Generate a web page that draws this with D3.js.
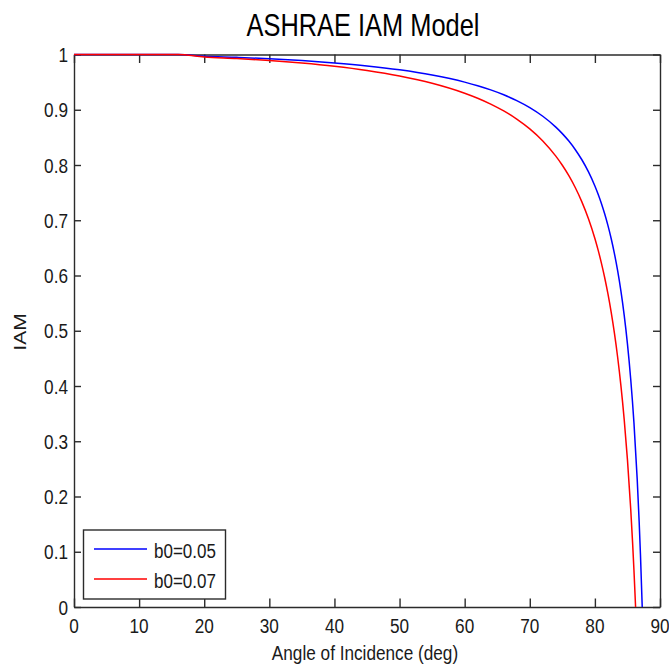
<!DOCTYPE html>
<html>
<head>
<meta charset="utf-8">
<script src="https://cdn.jsdelivr.net/npm/d3@7"></script>
<style>
  html, body { margin: 0; padding: 0; background: #fff; }
  svg { display: block; font-family: "Liberation Sans", Arial, sans-serif; }
</style>
</head>
<body>
<svg id="chart" width="669" height="666"></svg>
<script>
// ---- data ----
const angles05 = [0, 10, 16, 20, 25, 30, 35, 40, 45, 50, 55, 60, 62, 64, 66, 68, 70, 72, 74, 75, 76, 77, 78, 79, 80, 80.5, 81, 81.5, 82, 82.5, 83, 83.5, 84, 84.5, 85, 85.5, 86, 86.5, 86.8, 87, 87.27];
const iam05    = [1, 1, 1, 0.9968, 0.9948, 0.9923, 0.9890, 0.9847, 0.9793, 0.9722, 0.9628, 0.95, 0.9435, 0.9359, 0.9271, 0.9165, 0.9038, 0.8882, 0.8686, 0.8568, 0.8433, 0.8277, 0.8095, 0.7880, 0.7621, 0.7471, 0.7304, 0.7117, 0.6907, 0.6669, 0.6397, 0.6083, 0.5717, 0.5283, 0.4763, 0.4127, 0.3332, 0.2310, 0.1542, 0.0947, 0];
const angles07 = [0, 10, 16, 20, 25, 30, 35, 40, 45, 50, 55, 60, 62, 64, 66, 68, 70, 72, 74, 75, 76, 77, 78, 79, 80, 80.5, 81, 81.5, 82, 82.5, 83, 83.5, 84, 84.5, 85, 85.5, 85.8, 86, 86.25];
const iam07    = [1, 1, 1, 0.9955, 0.9928, 0.9892, 0.9845, 0.9786, 0.9710, 0.9611, 0.9480, 0.93, 0.9209, 0.9103, 0.8979, 0.8831, 0.8653, 0.8435, 0.8160, 0.7995, 0.7806, 0.7588, 0.7333, 0.7031, 0.6669, 0.6459, 0.6225, 0.5964, 0.5670, 0.5337, 0.4956, 0.4516, 0.4003, 0.3397, 0.2668, 0.1778, 0.1142, 0.0665, 0];
const seriesNames = ["b0=0.05", "b0=0.07"];
const seriesColors = ["#0000ff", "#ff0000"];
const xTicks = [0, 10, 20, 30, 40, 50, 60, 70, 80, 90];
const yTicks = [0, 0.1, 0.2, 0.3, 0.4, 0.5, 0.6, 0.7, 0.8, 0.9, 1];
const yTickLabels = ["0", "0.1", "0.2", "0.3", "0.4", "0.5", "0.6", "0.7", "0.8", "0.9", "1"];
const titleText = "ASHRAE IAM Model";
const xLabel = "Angle of Incidence (deg)";
const yLabel = "IAM";

// ---- layout ----
const L = 74, R = 660, T = 54.5, B = 607;
const SY = 1.22; // vertical text stretch seen in the picture
const svg = d3.select("#chart");
const x = d3.scaleLinear().domain([0, 90]).range([L, R]);
const y = d3.scaleLinear().domain([0, 1]).range([B, T]);
const axisColor = "#2b2b2b";
const textColor = "#1a1a1a";

// axes box with inward ticks
function styleAxis(g) {
  g.selectAll("path.domain").attr("stroke", axisColor).attr("stroke-width", 1.4);
  g.selectAll(".tick line").attr("stroke", axisColor).attr("stroke-width", 1.4);
  g.selectAll(".tick text").remove();
}
svg.append("g").attr("transform", `translate(0,${B})`)
  .call(d3.axisBottom(x).tickValues(xTicks).tickSizeInner(-8.5).tickSizeOuter(0).tickFormat(""))
  .call(styleAxis);
svg.append("g").attr("transform", `translate(0,${T})`)
  .call(d3.axisTop(x).tickValues(xTicks).tickSizeInner(-8.5).tickSizeOuter(0).tickFormat(""))
  .call(styleAxis);
svg.append("g").attr("transform", `translate(${L},0)`)
  .call(d3.axisLeft(y).tickValues(yTicks).tickSizeInner(-7).tickSizeOuter(0).tickFormat(""))
  .call(styleAxis);
svg.append("g").attr("transform", `translate(${R},0)`)
  .call(d3.axisRight(y).tickValues(yTicks).tickSizeInner(-7).tickSizeOuter(0).tickFormat(""))
  .call(styleAxis);

// tick labels
svg.append("g").selectAll("text").data(xTicks).join("text")
  .attr("transform", d => `translate(${x(d)},633) scale(1,${SY})`)
  .attr("text-anchor", "middle")
  .attr("font-size", 17.2)
  .attr("fill", textColor)
  .text(d => String(d));
svg.append("g").selectAll("text").data(yTicks).join("text")
  .attr("transform", d => `translate(68,${y(d) + 7.5}) scale(1,${SY})`)
  .attr("text-anchor", "end")
  .attr("font-size", 17.2)
  .attr("fill", textColor)
  .text((d, i) => yTickLabels[i]);

// lines
const line = d3.line().x(d => x(d[0])).y(d => y(d[1])).curve(d3.curveMonotoneX);
const data = [
  d3.zip(angles05, iam05),
  d3.zip(angles07, iam07)
];
data.forEach((pts, i) => {
  svg.append("path")
    .datum(pts)
    .attr("d", line)
    .attr("fill", "none")
    .attr("stroke", seriesColors[i])
    .attr("stroke-width", 1.5);
});

// title & labels
svg.append("text")
  .attr("transform", `translate(363,36) scale(1,1.25)`)
  .attr("text-anchor", "middle")
  .attr("font-size", 25.4)
  .attr("fill", "#000")
  .text(titleText);
svg.append("text")
  .attr("transform", `translate(365,660) scale(1,${SY})`)
  .attr("text-anchor", "middle")
  .attr("font-size", 17.2)
  .attr("fill", textColor)
  .text(xLabel);
svg.append("text")
  .attr("transform", `translate(26,332) scale(1,${SY}) rotate(-90)`)
  .attr("text-anchor", "middle")
  .attr("font-size", 17.2)
  .attr("fill", textColor)
  .text(yLabel);

// legend
const lg = svg.append("g");
lg.append("rect")
  .attr("x", 83.5).attr("y", 530).attr("width", 142).attr("height", 69)
  .attr("fill", "#fff").attr("stroke", axisColor).attr("stroke-width", 1.4);
seriesNames.forEach((name, i) => {
  const ly = 549 + i * 30;
  lg.append("line")
    .attr("x1", 94).attr("x2", 147).attr("y1", ly).attr("y2", ly)
    .attr("stroke", seriesColors[i]).attr("stroke-width", 1.5);
  lg.append("text")
    .attr("transform", `translate(154,${ly + 9}) scale(1,${SY})`)
    .attr("font-size", 17)
    .attr("fill", textColor)
    .text(name);
});
</script>
</body>
</html>
